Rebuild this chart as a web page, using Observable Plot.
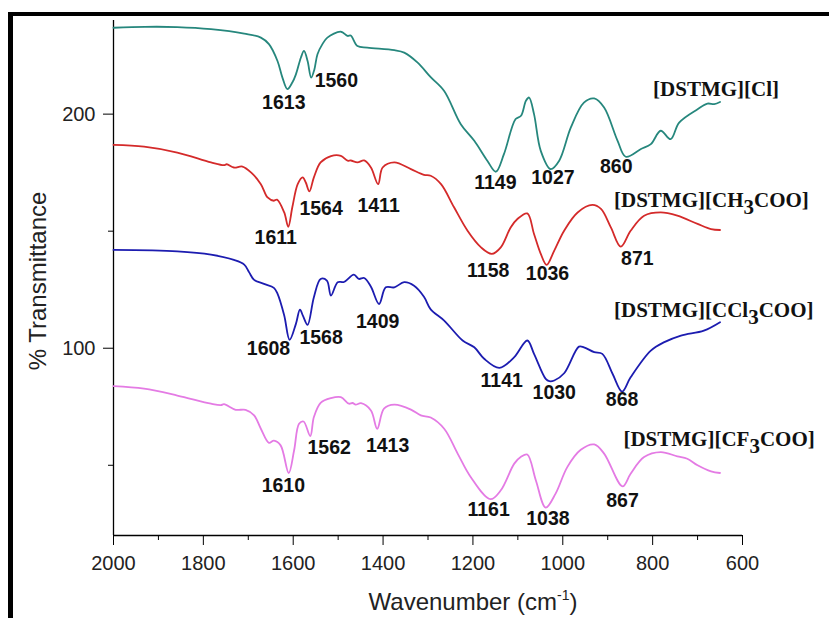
<!DOCTYPE html>
<html>
<head>
<meta charset="utf-8">
<script src="https://cdn.jsdelivr.net/npm/d3@7"></script>
<script src="https://cdn.jsdelivr.net/npm/@observablehq/plot@0.6"></script>
<style>
  html, body { margin: 0; padding: 0; background: #fff; }
  #wrap { position: relative; width: 829px; height: 618px; overflow: hidden; }
  #border { position: absolute; left: 8px; top: 12px; width: 900px; height: 700px;
            border-left: 5px solid #000; border-top: 4px solid #000; pointer-events: none; }
  #wrap svg { position: absolute; left: 0; top: 0; }
</style>
</head>
<body>
<div id="wrap"><div id="border"></div></div>
<script>
// FTIR spectra of four [DSTMG] salts, offset vertically.
const seriesNames = ["[DSTMG][Cl]", "[DSTMG][CH3COO]", "[DSTMG][CCl3COO]", "[DSTMG][CF3COO]"];
const seriesColors = ["#26877d", "#d42a2a", "#1c1cb0", "#e47be4"];

const clWn = [2000,1930,1858,1783,1709,1672,1654,1635,1624,1613,1602,1594,1583,1576,1568,1560,1553,1546,1535,1524,1494,1479,1472,1457,1435,1375,1353,1323,1294,1264,1227,1197,1168,1149,1131,1105,1093,1082,1075,1064,1049,1027,1008,982,953,930,908,878,860,826,804,782,760,741,700,678,663,650];
const clT  = [236.9,237.3,237.2,236.3,234.4,232.7,229.9,222.7,215.6,210.7,213.5,217,224.1,227,222.7,215.6,219,225.6,229.9,232.7,235.2,233.4,233.6,229.1,228.4,227.3,226.3,222,215.8,209.9,195.7,188.6,180.1,175.4,182.9,197.9,199.3,205.7,207.1,200,184.3,176.5,180.1,194.3,204.9,206.7,202.8,188.6,181.8,185.1,187.2,192.9,189.3,196.4,202.1,204.5,204.3,205.2];

const acWn = [2000,1932,1858,1783,1754,1748,1732,1713,1694,1672,1657,1643,1636,1620,1611,1602,1590,1579,1572,1564,1554,1539,1516,1494,1479,1472,1457,1442,1427,1411,1401,1375,1338,1309,1294,1271,1242,1212,1182,1158,1138,1116,1101,1079,1064,1049,1036,1019,997,967,934,915,893,871,849,819,782,745,700,670,650];
const acT  = [186.9,186.1,183.6,179.4,178.2,178.6,177.2,177.6,175.1,170.1,164.4,163,163.5,158,151.9,160.2,170.1,173,170.8,167,173,179.4,182.1,182.2,180.1,180.2,179.4,180.2,177.2,170.1,177.2,179.4,176.5,174.1,173.7,170.1,160.2,150.2,143.1,140.3,143.1,151.6,155.2,157.6,148.8,140.3,135.6,141.7,150.2,158,161.2,159.5,151.6,143.4,150.2,156.6,158,156.6,153.1,150.9,150.5];

const tcaWn = [2000,1858,1783,1732,1709,1698,1687,1665,1643,1635,1620,1608,1594,1585,1578,1568,1554,1539,1525,1516,1501,1487,1465,1454,1442,1427,1409,1394,1375,1353,1331,1309,1294,1264,1223,1197,1175,1141,1108,1079,1064,1038,1030,1019,997,964,953,930,912,889,868,849,804,774,737,686,650];
const tcaT  = [142,141.4,140,137.7,135.7,132.4,129.2,127.5,125.8,123.3,114,103.6,110.4,116.5,113.7,110,121.8,129.6,128.9,122.5,128.2,128.3,131.4,129.6,130,126.3,118.9,126,126,128.2,126.7,122,116.6,111.8,103.3,100.4,95.5,91.6,96.2,103.3,97.6,86.9,85.9,86.2,89.3,100.7,100.4,98.3,97.6,89,81.5,87.6,99,102.6,105.4,107.5,111.1];

const tfaWn = [2000,1932,1858,1783,1761,1754,1728,1706,1687,1672,1654,1643,1628,1610,1598,1587,1577,1562,1554,1539,1516,1494,1476,1468,1461,1449,1427,1413,1398,1375,1338,1316,1294,1264,1234,1205,1161,1138,1108,1093,1079,1060,1038,1016,990,960,930,908,867,849,819,782,745,723,700,670,650];
const tfaT  = [83.8,82.7,79.8,76.3,75.7,76.1,73.7,73.7,71.3,65.6,59.6,60.5,58.5,46.7,56.4,67.7,68.7,62.5,70.6,76.7,78.7,79.1,76.3,76.6,75.9,76.5,73.4,65.6,74.2,75.9,73.8,71.3,70.4,65.6,55,45,35.5,39.3,50.7,53.6,54.6,43.6,31.9,37.9,49.2,56.6,58.9,55,41,46.4,53.5,55.6,53.8,52.8,50,47.4,46.7];

// Peak annotations: wavenumber text and where it sits (wavenumber, % transmittance)
const peakText = ["1613","1560","1149","1027","860",
                  "1611","1564","1411","1158","1036","871",
                  "1608","1568","1409","1141","1030","868",
                  "1610","1562","1413","1161","1038","867"];
const peakAtWn = [1621,1504,1150,1022,881,
                  1639,1538,1410,1166,1034,834,
                  1655,1538,1412,1136,1019,868,
                  1622,1520,1390,1165,1033,867];
const peakAtT  = [204.9,214.2,170.6,173,177.5,
                  147.2,159.5,160.9,132.9,131.7,138.1,
                  99.7,104.6,111.1,85.9,80.8,78,
                  41.4,57.3,58.5,30.8,27.2,35];

// Series name labels (left edge)
const nameAtWn = [799, 886, 886, 865];
const nameAtT  = [210.5, 163.4, 116.1, 60.9];

// Axis ticks
const xMajor = [2000, 1800, 1600, 1400, 1200, 1000, 800, 600];
const xMinor = [1900, 1700, 1500, 1300, 1100, 900, 700];
const yMajor = [100, 200];
const yMinor = [50, 150];

const wnArrays = [clWn, acWn, tcaWn, tfaWn];
const tArrays = [clT, acT, tcaT, tfaT];
const rows = [];
seriesNames.forEach((name, k) => {
  wnArrays[k].forEach((w, i) => rows.push({name, wn: w, t: tArrays[k][i]}));
});
const peaks = peakText.map((text, i) => ({text, wn: peakAtWn[i], t: peakAtT[i]}));
const names = seriesNames.map((text, i) => ({text, wn: nameAtWn[i], t: nameAtT[i]}));

const sans = "'Liberation Sans', Arial, sans-serif";

const chart = Plot.plot({
  width: 829,
  height: 618,
  marginLeft: 113,
  marginRight: 87,
  marginTop: 20,
  marginBottom: 83,
  style: {fontFamily: sans, fontSize: "20px", color: "#000", background: "transparent"},
  x: {domain: [2000, 600]},
  y: {domain: [20, 240]},
  color: {domain: seriesNames, range: seriesColors},
  marks: [
    Plot.axisX({ticks: xMajor, tickSize: 10, tickPadding: 10, tickFormat: d3.format("d"), label: null,
                fill: "#222", fontSize: 20, className: "tick-text"}),
    Plot.axisX({ticks: xMinor, tickSize: 5, text: null, label: null}),
    Plot.axisY({ticks: yMajor, tickSize: 10, tickPadding: 8, tickFormat: d3.format("d"), label: null,
                fill: "#222", fontSize: 20, className: "tick-text"}),
    Plot.axisY({ticks: yMinor, tickSize: 5, text: null, label: null}),
    Plot.ruleX([2000], {stroke: "#000", strokeWidth: 1.3}),
    Plot.ruleY([20], {stroke: "#000", strokeWidth: 1.3}),
    Plot.line(rows, {x: "wn", y: "t", z: "name", stroke: "name", strokeWidth: 1.8, curve: "catmull-rom"}),
    Plot.text(peaks, {x: "wn", y: "t", text: "text", fontWeight: "bold", fontSize: 19.5, fill: "#111",
                      fontFamily: sans}),
    Plot.text(names, {x: "wn", y: "t", text: "text", textAnchor: "start", fontWeight: "bold", fontSize: 21,
                      fill: "#111", fontFamily: "'Liberation Serif', 'Times New Roman', serif",
                      className: "series-name"})
  ]
});

document.getElementById("wrap").appendChild(chart);

// Tick label type size
d3.select(chart).selectAll("g[aria-label$='tick label'], g[aria-label$='tick label'] text")
  .style("font-size", "20px");

// Subscript digits in the formula labels
d3.select(chart).selectAll(".series-name text").each(function () {
  const t = d3.select(this);
  const s = t.text();
  t.text(null);
  const parts = s.split(/(\d)/).filter(p => p.length);
  let shifted = false;
  parts.forEach(p => {
    const sp = t.append("tspan").text(p);
    if (/^\d$/.test(p)) { sp.attr("dy", 7); shifted = true; }
    else if (shifted) { sp.attr("dy", -7); shifted = false; }
  });
});

// Axis titles
const svg = d3.select(chart);
const xt = svg.append("text")
  .attr("x", 473).attr("y", 610)
  .attr("text-anchor", "middle")
  .attr("font-size", 24)
  .attr("fill", "#222")
  .attr("font-family", sans);
xt.append("tspan").text("Wavenumber (cm");
xt.append("tspan").text("-1").attr("font-size", 14).attr("dy", -10);
xt.append("tspan").text(")").attr("dy", 10);

svg.append("text")
  .attr("transform", "translate(46,281) rotate(-90)")
  .attr("text-anchor", "middle")
  .attr("font-size", 24)
  .attr("fill", "#222")
  .attr("font-family", sans)
  .text("% Transmittance");
</script>
</body>
</html>
